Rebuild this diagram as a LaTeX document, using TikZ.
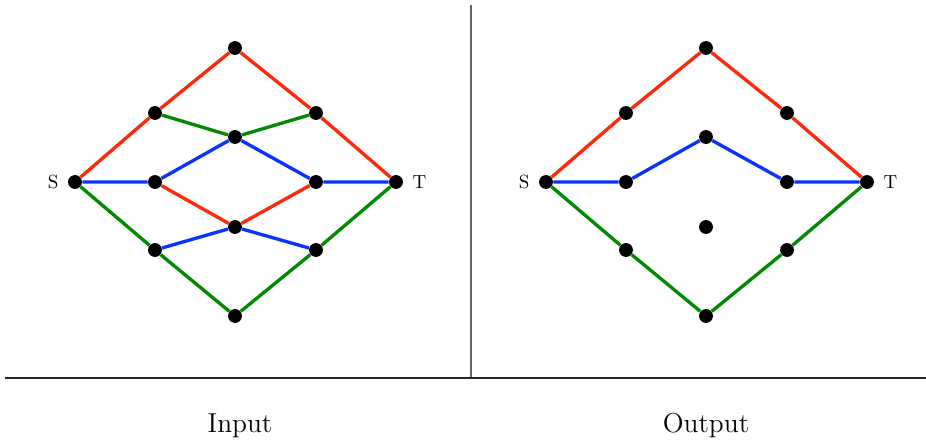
\documentclass[tikz,border=0pt]{standalone}
\usepackage{tikz}
\usetikzlibrary{positioning}
\definecolor{pathred}{RGB}{255,40,10}
\definecolor{pathblue}{RGB}{10,50,255}
\definecolor{pathgreen}{RGB}{0,138,0}
\tikzset{dot/.style={circle,fill=black,inner sep=0pt,minimum size=7.3pt},
	edge/.style={line width=1.75pt},
	sep/.style={line width=0.8pt}}

\begin{document}
\begin{tikzpicture}[x=0.0185cm,y=0.0185cm]
	\useasboundingbox (0,0) rectangle (926,440);
	% the two graphs
	\foreach \g/\ox in {L/75,R/546}{
		\begin{scope}[shift={(\ox,258)}]
			\node[dot] (\g s) at (0,0) {};
			\node[dot] (\g u1) at (80,69) {};
			\node[dot] (\g top) at (160,134) {};
			\node[dot] (\g u2) at (241,69) {};
			\node[dot] (\g t) at (321,0) {};
			\node[dot] (\g m1) at (80,0) {};
			\node[dot] (\g mu) at (160,45) {};
			\node[dot] (\g m2) at (241,0) {};
			\node[dot] (\g ml) at (160,-45) {};
			\node[dot] (\g d1) at (80,-68) {};
			\node[dot] (\g bot) at (160,-134) {};
			\node[dot] (\g d2) at (241,-68) {};
		\end{scope}
		\node[left=1.3pt of \g s] (\g slab) {S};
		\node[right=1.3pt of \g t] (\g tlab) {T};
		\draw[edge,pathred] (\g s)--(\g u1)--(\g top)--(\g u2)--(\g t);
		\draw[edge,pathblue] (\g s)--(\g m1)--(\g mu)--(\g m2)--(\g t);
		\draw[edge,pathgreen] (\g s)--(\g d1)--(\g bot)--(\g d2)--(\g t);
	}
	% crossings, input only
	\draw[edge,pathred] (Lm1)--(Lml)--(Lm2);
	\draw[edge,pathgreen] (Lu1)--(Lmu)--(Lu2);
	\draw[edge,pathblue] (Ld1)--(Lml)--(Ld2);
	% frame
	\coordinate (vtop) at (471,435);
	\coordinate (vbot) at (471,62);
	\coordinate (hleft) at (5,62);
	\coordinate (hright) at (926,62);
	\draw[sep,black!60] (vtop)--(vbot);
	\draw[sep,black!85] (hleft)--(hright);
	\node[font=\Large] (inlab) at (240,14) {Input};
	\node[font=\Large] (outlab) at (706,14) {Output};
\end{tikzpicture}
\end{document}
